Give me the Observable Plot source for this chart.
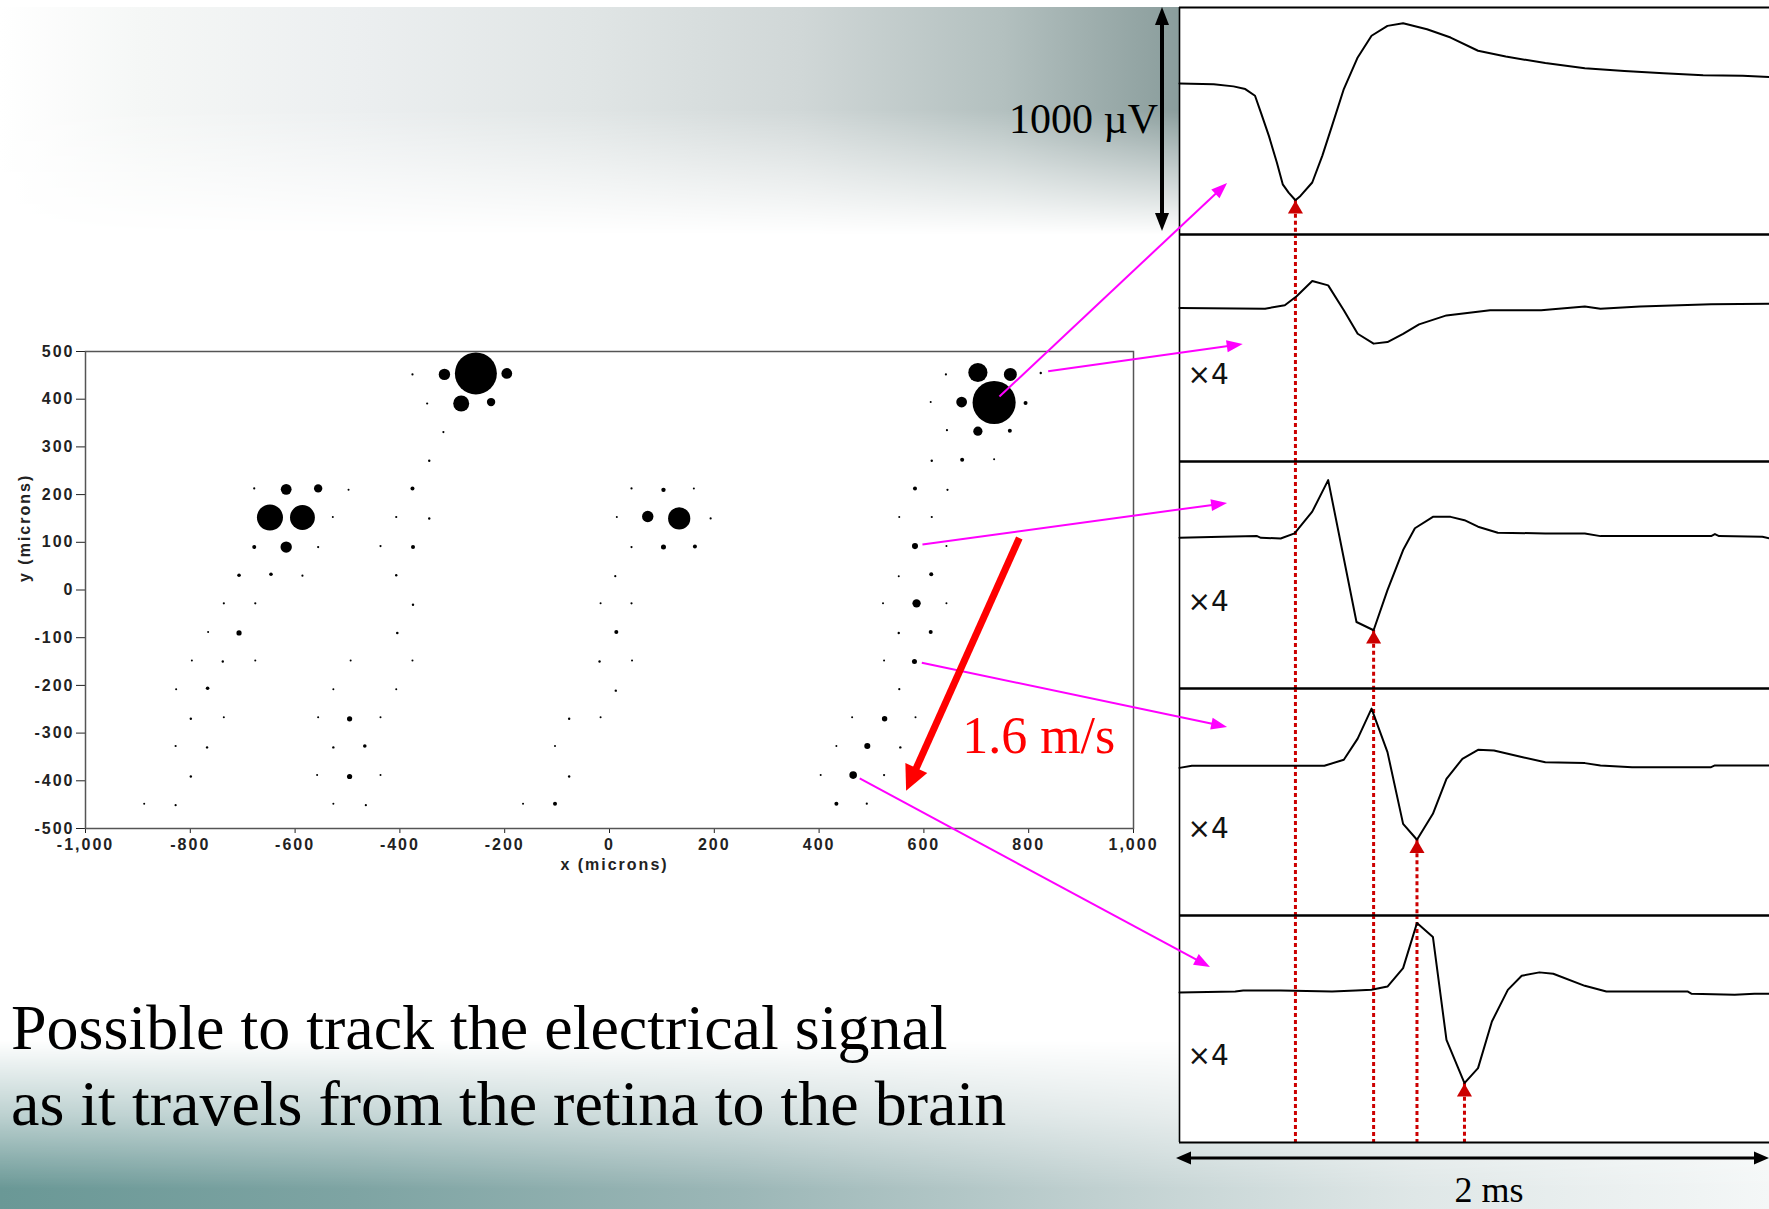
<!DOCTYPE html>
<html><head><meta charset="utf-8">
<script src="https://cdn.jsdelivr.net/npm/d3@7"></script>
<script src="https://cdn.jsdelivr.net/npm/@observablehq/plot@0.6"></script>
<style>
html,body{margin:0;padding:0;}
body{width:1769px;height:1209px;overflow:hidden;position:relative;background:#fff;}
.abs{position:absolute;}
#scatter svg, #panels svg{max-width:none !important;}
#bgTop{left:0;top:7px;width:1179px;height:228px;
 background:linear-gradient(to right,#ffffff 0%,#f5f7f6 12%,#eceff0 30%,#e0e5e5 50%,#d0d7d7 68%,#b3c0bf 85%,#8a9d9c 100%);
 -webkit-mask-image:linear-gradient(to bottom,#000 0%,#000 45%,rgba(0,0,0,.45) 75%,transparent 100%);
 mask-image:linear-gradient(to bottom,#000 0%,#000 45%,rgba(0,0,0,.45) 75%,transparent 100%);}
#bgBot{left:0;top:1040px;width:1769px;height:169px;
 background:linear-gradient(to right,#6a9896 0%,#7ea4a3 20%,#9cb7b7 42%,#c0d0d0 62%,#dfe7e7 80%,#f4f7f7 100%);
 -webkit-mask-image:linear-gradient(to bottom,transparent 0%,rgba(0,0,0,.45) 45%,#000 88%);
 mask-image:linear-gradient(to bottom,transparent 0%,rgba(0,0,0,.45) 45%,#000 88%);}
#panelBg{left:1179px;top:7px;width:600px;height:1136px;background:#fff;}
</style></head><body>
<div id="bgTop" class="abs"></div>
<div id="bgBot" class="abs"></div>
<div id="panelBg" class="abs"></div>
<div id="scatter" class="abs" style="left:0;top:330px;width:1175px;height:560px;"></div>
<div id="panels"></div>
<svg id="overlay" class="abs" width="1769" height="1209" style="left:0;top:0;z-index:5;pointer-events:none"></svg>
<script>
// ---------------- DATA ----------------
// Electrode map: [x (microns), y (microns), relative spike amplitude]
const electrodes = [
  [-255,454,91],[-315,452,6.7],[-196,454,6.0],[-283,391,13.2],[-226,394,3.6],[-376,452,0.25],[-348,391,0.25],[-317,331,0.25],[-344,271,0.3],[-376,213,0.83],[-407,153,0.25],[-344,150,0.3],[-437,92,0.25],[-375,90,0.83],[-407,31,0.3],
  [-648,152,35],[-586,152,32],[-617,211,6.0],[-556,213,3.6],[-617,90,6.7],[-678,213,0.25],[-498,210,0.21],[-528,153,0.21],[-678,90,0.83],[-556,90,0.25],[-707,31,0.67],[-646,33,0.67],[-586,30,0.25],
  [-736,-28,0.25],[-676,-28,0.25],[-375,-31,0.3],[-766,-88,0.21],[-707,-90,1.4],[-405,-90,0.35],[-797,-148,0.21],[-738,-150,0.3],[-676,-148,0.21],[-494,-148,0.21],[-376,-148,0.21],[-827,-208,0.21],[-767,-206,0.67],[-527,-208,0.21],[-407,-208,0.21],[-799,-270,0.3],[-736,-267,0.21],[-556,-267,0.21],[-496,-270,1.4],[-437,-267,0.21],[-828,-327,0.25],[-768,-330,0.3],[-527,-330,0.3],[-467,-327,0.67],[-104,-327,0.21],[-799,-391,0.3],[-558,-388,0.21],[-496,-391,1.4],[-437,-388,0.21],[-77,-391,0.3],[-77,-270,0.3],[-888,-448,0.21],[-828,-451,0.25],[-527,-448,0.21],[-465,-451,0.25],[-165,-448,0.21],[-104,-448,0.83],
  [-17,-28,0.21],[42,-28,0.25],[13,-88,0.83],[-19,-150,0.3],[43,-148,0.21],[12,-211,0.3],[-17,-267,0.21],
  [133,150,25.5],[73,154,6.7],[42,213,0.25],[103,210,1.0],[161,213,0.21],[14,153,0.21],[193,150,0.25],[42,90,0.25],[103,90,1.3],[163,91,0.83],[11,29,0.25],
  [734,393,96],[703,456,19],[765,452,8.7],[672,394,6.0],[703,333,4.4],[642,452,0.25],[823,455,0.3],[613,394,0.21],[794,392,0.83],[644,335,0.25],[764,334,0.83],[615,271,0.3],[673,273,0.83],[734,274,0.21],[583,213,0.83],[645,210,0.25],[553,153,0.21],[615,153,0.25],[583,92,1.9],[643,92,0.21],[552,29,0.21],[614,33,0.83],
  [522,-28,0.21],[586,-28,3.6],[643,-28,0.21],[552,-90,0.3],[613,-88,0.83],[524,-148,0.21],[582,-150,1.3],[553,-208,0.25],[463,-267,0.21],[525,-270,1.5],[584,-267,0.21],[433,-327,0.21],[492,-327,1.9],[555,-330,0.3],[403,-388,0.21],[465,-388,3.0],[524,-388,0.25],[433,-448,0.83],[491,-448,0.25]
];
const xTicks = [-1000,-800,-600,-400,-200,0,200,400,600,800,1000];
const yTicks = [-500,-400,-300,-200,-100,0,100,200,300,400,500];

// Recorded waveforms: [time (ms), voltage (µV)]
const wave1 = [[0,0],[0.116,-3],[0.183,-13],[0.223,-25],[0.256,-55],[0.276,-130],[0.303,-234],[0.330,-353],[0.350,-450],[0.370,-487],[0.393,-521],[0.410,-502],[0.450,-442],[0.484,-323],[0.517,-189],[0.557,-25],[0.604,116],[0.651,213],[0.705,257],[0.758,269],[0.839,242],[0.919,205],[1.012,146],[1.106,120],[1.240,91],[1.374,68],[1.508,56],[1.641,46],[1.775,37],[1.909,34],[2.0,29]];
const wave2 = [[0,2.8],[0.290,2],[0.357,5.8],[0.397,15.8],[0.450,32.8],[0.504,28],[0.557,0.3],[0.604,-26],[0.658,-37],[0.705,-35.3],[0.758,-26],[0.812,-15.5],[0.905,-5.5],[1.053,0.3],[1.226,0.3],[1.374,4.5],[1.427,2],[1.561,4.5],[1.802,6.8],[2.0,7.5]];
const wave3 = [[0,-0.4],[0.143,0.8],[0.263,1.5],[0.276,-0.4],[0.343,-1.1],[0.390,4.5],[0.450,28.8],[0.504,64],[0.600,-94.3],[0.658,-103.5],[0.705,-58.8],[0.758,-14],[0.798,10.3],[0.859,23],[0.919,23],[0.966,19.3],[1.012,12],[1.079,5.3],[1.240,4.5],[1.374,4.5],[1.427,1.5],[1.802,1.5],[1.815,3.8],[1.829,1.5],[1.976,0.8],[2.0,-1.1]];
const wave4 = [[0,-3.8],[0.042,-1.5],[0.491,-1.5],[0.557,5.3],[0.604,28.8],[0.651,62.3],[0.705,13.8],[0.758,-66.3],[0.805,-84],[0.859,-55],[0.905,-16],[0.959,6.3],[1.012,16.3],[1.066,15.5],[1.160,8.3],[1.240,2.5],[1.374,1.5],[1.427,-1.1],[1.534,-3],[1.802,-3],[1.815,-1.1],[2.0,-1.1]];
const wave5 = [[0,-1.1],[0.189,0],[0.216,1.1],[0.343,1.1],[0.517,0],[0.598,1.1],[0.651,1.8],[0.705,5.5],[0.758,26],[0.805,76.3],[0.859,60.8],[0.905,-54],[0.966,-102.3],[1.012,-85.5],[1.059,-33.5],[1.113,1.8],[1.160,17.5],[1.220,21.3],[1.267,19.8],[1.374,6.3],[1.447,0],[1.722,0],[1.735,-2.5],[1.882,-3.8],[1.949,-2.5],[2.0,-2.5]];
const waves = [wave1, wave2, wave3, wave4, wave5];
const gains = [1, 4, 4, 4, 4];
const markedPanels = [1, 3, 4, 5];          // panels whose trough starts a timing line
const voltDomain = [-674, 339];            // displayed µV range of each panel
const timeDomain = [0, 2];                 // ms
const scaleBarUV = 1000;                   // µV
// links from an electrode to the panel showing its waveform (target in ms, displayed µV)
const links = [
  {x:734, y:393, panel:1, t:0.163, v:-446},
  {x:823, y:455, panel:2, t:0.216, v:-152},
  {x:583, y:92,  panel:3, t:0.163, v:152},
  {x:582, y:-150,panel:4, t:0.163, v:165},
  {x:465, y:-388,panel:5, t:0.105, v:107}
];
const speedArrow = {x1:783, y1:108, x2:567, y2:-422, label:"1.6 m/s", lx:674, ly:-343};
const captionLines = ["Possible to track the electrical signal", "as it travels from the retina to the brain"];

// ---------------- SCATTER ----------------
const fmt = d => d3.format(",")(d).replace("\u2212", "-");
const scatter = Plot.plot({
  width: 1175, height: 560, marginLeft: 85, marginRight: 42, marginTop: 21, marginBottom: 62,
  x: {domain: [-1000, 1000], ticks: xTicks, tickFormat: fmt, tickSize: 5, tickPadding: 5, label: null},
  y: {domain: [-500, 500], ticks: yTicks, tickFormat: fmt, tickSize: 9, tickPadding: 2, label: null},
  r: {type: "sqrt", domain: [0, 100], range: [0, 22]},
  style: {fontFamily: "'Liberation Sans', Arial, sans-serif", fontSize: "16px", fontWeight: "bold", letterSpacing: "2px", color: "#222", background: "transparent", maxWidth: "none"},
  marks: [
    Plot.frame({stroke: "#555", strokeWidth: 1.5, fill: "white"}),
    Plot.dot(electrodes, {x: d => d[0], y: d => d[1], r: d => d[2], fill: "black", stroke: "none"}),
    Plot.text(["x (microns)"], {frameAnchor: "bottom", lineAnchor: "top", dy: 30, dx: 5, fontSize: 16, fontWeight: "bold"}),
    Plot.text(["y (microns)"], {frameAnchor: "left", rotate: -90, dx: -61, dy: -8, fontSize: 16, fontWeight: "bold"})
  ]
});
document.getElementById("scatter").appendChild(scatter);
const scatterLeft = 0, scatterTop = 330;
const sxs = scatter.scale("x"), sys = scatter.scale("y");
const sx = d3.scaleLinear(sxs.domain, sxs.range), sy = d3.scaleLinear(sys.domain, sys.range);
const SP = (x, y) => [scatterLeft + sx(x), scatterTop + sy(y)];

// ---------------- WAVEFORM PANELS ----------------
const panelLeft = 1179, panelTop0 = 7, panelH = 227, panelW = 590;
const troughs = markedPanels.map(p => {
  const m = d3.least(waves[p - 1], d => d[1]);
  return {panel: p, t: m[0], v: m[1] * gains[p - 1]};
});
const panelScales = [];
waves.forEach((w, k) => {
  const data = w.map(([t, v]) => ({t, v: v * gains[k]}));
  const rules = troughs.filter(m => m.panel <= k + 1)
    .map(m => ({t: m.t, y1: m.panel === k + 1 ? m.v : voltDomain[1], y2: voltDomain[0]}));
  const tri = troughs.filter(m => m.panel === k + 1);
  const marks = [
    Plot.ruleX(rules, {x: "t", y1: "y1", y2: "y2", stroke: "#cc0000", strokeWidth: 3, strokeDasharray: "4,3"}),
    Plot.ruleY([voltDomain[1]], {stroke: "#000", strokeWidth: 2.2}),
    Plot.ruleY([voltDomain[0]], {stroke: "#000", strokeWidth: 2.2}),
    Plot.ruleX([timeDomain[0]], {stroke: "#000", strokeWidth: 1.6}),
    Plot.line(data, {x: "t", y: "v", stroke: "#000", strokeWidth: 2}),
    Plot.dot(tri, {x: "t", y: "v", symbol: "triangle", r: 5.6, dy: 9, fill: "#cc0000", stroke: "none"})
  ];
  if (gains[k] !== 1) marks.push(Plot.text(["\u00D7" + gains[k]], {frameAnchor: "top-left", lineAnchor: "middle", dx: 8, dy: 141, textAnchor: "start", fontSize: 28, fontFamily: "'DejaVu Sans', sans-serif", fill: "#111"}));
  const p = Plot.plot({
    width: 640, height: panelH + 4, marginTop: 2, marginBottom: 2, marginLeft: 2, marginRight: 0,
    x: {domain: timeDomain, range: [2, 2 + panelW], axis: null},
    y: {domain: voltDomain, axis: null},
    style: {background: "transparent", maxWidth: "none"},
    marks
  });
  const div = document.createElement("div");
  div.className = "abs";
  const top = panelTop0 + panelH * k - 2;
  div.style.left = (panelLeft - 2) + "px";
  div.style.top = top + "px";
  div.style.width = "640px";
  div.appendChild(p);
  document.getElementById("panels").appendChild(div);
  const xs = p.scale("x"), ys = p.scale("y");
  const fx = d3.scaleLinear(xs.domain, xs.range), fy = d3.scaleLinear(ys.domain, ys.range);
  panelScales.push((t, v) => [panelLeft - 2 + fx(t), top + fy(v)]);
});

// ---------------- OVERLAY ANNOTATIONS ----------------
const ov = d3.select("#overlay");
function arrow(x1, y1, x2, y2, o) {
  const dx = x2 - x1, dy = y2 - y1, L = Math.hypot(dx, dy), ux = dx / L, uy = dy / L, px = -uy, py = ux;
  const head = (tx, ty, sx_, sy_) => {
    const bx = tx - sx_ * o.head, by = ty - sy_ * o.head;
    ov.append("path").attr("d", `M${tx},${ty}L${bx + px * o.headW / 2},${by + py * o.headW / 2}L${bx - px * o.headW / 2},${by - py * o.headW / 2}Z`).attr("fill", o.color);
  };
  const sxp = o.double ? x1 + ux * o.head * 0.8 : x1, syp = o.double ? y1 + uy * o.head * 0.8 : y1;
  ov.append("line").attr("x1", sxp).attr("y1", syp).attr("x2", x2 - ux * o.head * 0.8).attr("y2", y2 - uy * o.head * 0.8)
    .attr("stroke", o.color).attr("stroke-width", o.width);
  head(x2, y2, ux, uy);
  if (o.double) head(x1, y1, -ux, -uy);
}
// magenta links
links.forEach(l => {
  const [ax, ay] = SP(l.x, l.y);
  const [bx, by] = panelScales[l.panel - 1](l.t, l.v);
  const L = Math.hypot(bx - ax, by - ay);
  const gap = 8;
  arrow(ax + (bx - ax) / L * gap, ay + (by - ay) / L * gap, bx, by, {color: "#ff00ff", width: 2, head: 16, headW: 12});
});
// conduction arrow
{
  const [a1, b1] = SP(speedArrow.x1, speedArrow.y1), [a2, b2] = SP(speedArrow.x2, speedArrow.y2);
  arrow(a1, b1, a2, b2, {color: "#ff0000", width: 7, head: 25, headW: 24});
  const [lx, ly] = SP(speedArrow.lx, speedArrow.ly);
  ov.append("text").attr("x", lx).attr("y", ly).attr("fill", "#ff0000")
    .attr("font-family", "'Liberation Serif', 'Times New Roman', serif").attr("font-size", 52).text(speedArrow.label);
}
// voltage scale bar (1000 µV) beside panel 1
{
  const [, yTop] = panelScales[0](0, voltDomain[1]);
  const [, yBot] = panelScales[0](0, voltDomain[1] - scaleBarUV);
  const xb = panelLeft - 17;
  arrow(xb, yTop, xb, yBot, {color: "#000", width: 4, head: 18, headW: 14, double: true});
  ov.append("text").attr("x", xb - 4).attr("y", (yTop + yBot) / 2 + 14).attr("text-anchor", "end")
    .attr("font-family", "'Liberation Serif', 'Times New Roman', serif").attr("font-size", 42).text(scaleBarUV + " \u00B5V");
}
// time scale bar (2 ms)
{
  const [x0] = panelScales[4](timeDomain[0], 0), [x1] = panelScales[4](timeDomain[1], 0), [xm] = panelScales[4]((timeDomain[0] + timeDomain[1]) / 2, 0);
  const yb = panelTop0 + panelH * 5 + 16;
  arrow(x0 - 3, yb, x1, yb, {color: "#000", width: 3, head: 15, headW: 13, double: true});
  ov.append("text").attr("x", xm + 15).attr("y", yb + 44).attr("text-anchor", "middle")
    .attr("font-family", "'Liberation Serif', 'Times New Roman', serif").attr("font-size", 36).text((timeDomain[1] - timeDomain[0]) + " ms");
}
// caption
captionLines.forEach((s, i) => {
  ov.append("text").attr("x", 11).attr("y", 1049 + i * 76).attr("fill", "#000")
    .attr("font-family", "'Liberation Serif', 'Times New Roman', serif").attr("font-size", 64).text(s);
});
</script>
</body></html>
